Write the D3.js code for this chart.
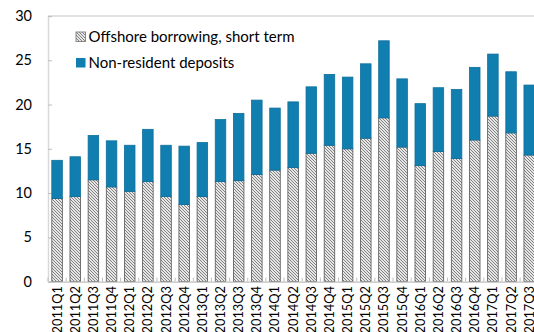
<!DOCTYPE html>
<html>
<head>
<meta charset="utf-8">
<script src="https://cdn.jsdelivr.net/npm/d3@7"></script>
<style>
  body { margin: 0; background: #fff; }
  svg { display: block; font-family: Lato, "Open Sans", sans-serif; }
</style>
</head>
<body>
<div class="chartHolder"></div>
<script>
var quarters = ["2011Q1", "2011Q2", "2011Q3", "2011Q4", "2012Q1", "2012Q2", "2012Q3", "2012Q4",
  "2013Q1", "2013Q2", "2013Q3", "2013Q4", "2014Q1", "2014Q2", "2014Q3", "2014Q4",
  "2015Q1", "2015Q2", "2015Q3", "2015Q4", "2016Q1", "2016Q2", "2016Q3", "2016Q4",
  "2017Q1", "2017Q2", "2017Q3"];
var offshore = [9.4, 9.6, 11.5, 10.7, 10.2, 11.3, 9.6, 8.7, 9.6, 11.3, 11.4, 12.1, 12.6, 12.9,
  14.5, 15.4, 15.0, 16.2, 18.5, 15.2, 13.1, 14.7, 13.9, 16.0, 18.7, 16.8, 14.3];
var totals = [13.7, 14.1, 16.5, 15.9, 15.4, 17.2, 15.4, 15.3, 15.7, 18.3, 19.0, 20.5, 19.6, 20.3,
  22.0, 23.4, 23.1, 24.6, 27.2, 22.9, 20.1, 21.9, 21.7, 24.2, 25.7, 23.7, 22.2];
var deposits = totals.map(function (t, i) { return +(t - offshore[i]).toFixed(2); });
var yTicks = [0, 5, 10, 15, 20, 25, 30];
var seriesNames = ["Offshore borrowing, short term", "Non-resident deposits"];

var svgW = 534, svgH = 332;
var margin = { top: 16, left: 48, bottom: 50 };
var plotRight = 538.3;
var baseY = 281.6;

var svg = d3.select(".chartHolder").append("svg").attr("width", svgW).attr("height", svgH);

var defs = svg.append("defs");
var pat = defs.append("pattern").attr("id", "hatch").attr("patternUnits", "userSpaceOnUse")
  .attr("width", 3).attr("height", 3);
pat.append("rect").attr("width", 3).attr("height", 3).attr("fill", "#e6e6e6");
pat.append("path").attr("d", "M-1,-1 L4,4 M-1,2 L1,4 M2,-1 L4,1")
  .attr("stroke", "#777").attr("stroke-width", 0.9);

var xScale = d3.scaleBand().domain(quarters).range([margin.left, plotRight])
  .paddingInner(0.42).paddingOuter(0.21);
var yScale = d3.scaleLinear().domain([0, 30]).range([baseY, margin.top]);

// frame: top and left lines
svg.append("line").attr("x1", margin.left).attr("x2", svgW).attr("y1", yScale(30)).attr("y2", yScale(30))
  .attr("stroke", "#d9d9d9").attr("stroke-width", 1.5);

var yAxis = d3.axisLeft(yScale).tickValues(yTicks).tickSize(-4).tickPadding(16);
var gy = svg.append("g").attr("transform", "translate(" + margin.left + ",0)").call(yAxis);
gy.select(".domain").attr("stroke", "#d9d9d9").attr("stroke-width", 1.5);
gy.selectAll(".tick line").attr("stroke", "#bfbfbf");
gy.selectAll(".tick text").attr("font-size", 14.5).attr("fill", "#000")
  .attr("font-family", "Lato, sans-serif");

// bars
var step = xScale.step();
var bars = svg.append("g");
bars.selectAll("rect.off").data(quarters).enter().append("rect").attr("class", "off")
  .attr("x", function (d) { return xScale(d); })
  .attr("y", function (d, i) { return yScale(offshore[i]); })
  .attr("width", xScale.bandwidth())
  .attr("height", function (d, i) { return yScale(0) - yScale(offshore[i]); })
  .attr("fill", "url(#hatch)").attr("stroke", "#555").attr("stroke-width", 0.8);
bars.selectAll("rect.dep").data(quarters).enter().append("rect").attr("class", "dep")
  .attr("x", function (d) { return xScale(d); })
  .attr("y", function (d, i) { return yScale(offshore[i] + deposits[i]); })
  .attr("width", xScale.bandwidth())
  .attr("height", function (d, i) { return yScale(offshore[i]) - yScale(offshore[i] + deposits[i]); })
  .attr("fill", "#107fb0").attr("stroke", "#0d6f9c").attr("stroke-width", 0.8);

// x axis
var xAxis = d3.axisBottom(xScale).tickSize(0).tickPadding(6);
var gx = svg.append("g").attr("transform", "translate(0," + baseY + ")").call(xAxis);
gx.select(".domain").attr("stroke", "#bfbfbf").attr("stroke-width", 1.2);
gx.selectAll(".tick text").attr("font-size", 12.8).attr("fill", "#000")
  .attr("font-family", "Lato, sans-serif")
  .attr("transform", "rotate(-90)").attr("text-anchor", "end")
  .attr("x", -4.5).attr("y", 0).attr("dy", "0.35em");
gx.selectAll("line.sep").data(d3.range(quarters.length + 1)).enter().append("line").attr("class", "sep")
  .attr("x1", function (d) { return margin.left + d * step; })
  .attr("x2", function (d) { return margin.left + d * step; })
  .attr("y1", 0).attr("y2", -4).attr("stroke", "#bfbfbf");

// legend
var legend = svg.append("g").attr("transform", "translate(76,32)");
seriesNames.forEach(function (name, i) {
  var row = legend.append("g").attr("transform", "translate(0," + (i * 26) + ")");
  row.append("rect").attr("width", 9.5).attr("height", 9.5)
    .attr("fill", i === 0 ? "url(#hatch)" : "#107fb0")
    .attr("stroke", i === 0 ? "#888" : "none");
  row.append("text").attr("x", 12.5).attr("y", 10).attr("font-size", 15).text(name);
});
</script>
</body>
</html>
